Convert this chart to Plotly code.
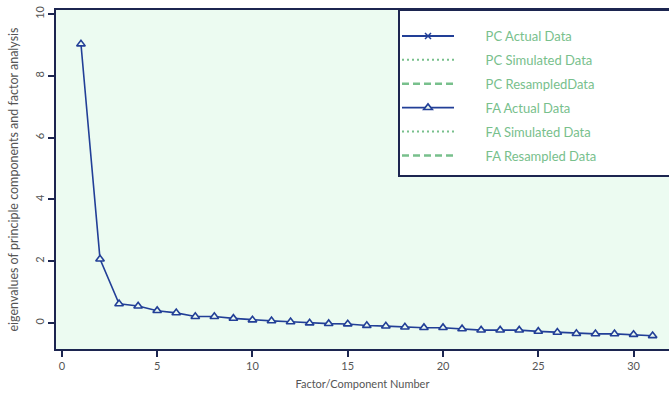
import plotly.graph_objects as go

factor_numbers = list(range(1, 32))
fa_actual = [9.03, 2.07, 0.62, 0.55, 0.40, 0.33, 0.21, 0.21, 0.15, 0.10,
             0.07, 0.04, 0.00, -0.02, -0.03, -0.08, -0.10, -0.13, -0.15, -0.15,
             -0.19, -0.23, -0.23, -0.23, -0.27, -0.30, -0.34, -0.35, -0.35, -0.37, -0.41]
pc_actual = []
pc_simulated = []
pc_resampled = []
fa_simulated = []
fa_resampled = []

x_ticks = [0, 5, 10, 15, 20, 25, 30]
y_ticks = [0, 2, 4, 6, 8, 10]

BLUE = "#223f97"
GREEN = "#78c08c"
NAVY = "#1c2550"
BG = "#ecfbf1"
PAD = "\u00a0" * 8
DOT = "2px,3px"
DASH = "7px,4px"

def xs(vals):
    return factor_numbers[:len(vals)] if vals else [None]

def ys(vals):
    return vals if vals else [None]

fig = go.Figure()
fig.add_trace(go.Scatter(x=xs(pc_actual), y=ys(pc_actual), name=PAD + "PC Actual Data",
                         mode="lines+markers", legendgroup="1",
                         line=dict(color=BLUE, width=2),
                         marker=dict(symbol="x-thin-open", size=6, color=BLUE, line=dict(color=BLUE, width=1.5))))
fig.add_trace(go.Scatter(x=xs(pc_simulated), y=ys(pc_simulated), name=PAD + "PC Simulated Data",
                         mode="lines", legendgroup="2",
                         line=dict(color=GREEN, width=2, dash=DOT)))
fig.add_trace(go.Scatter(x=xs(pc_resampled), y=ys(pc_resampled), name=PAD + "PC ResampledData",
                         mode="lines", legendgroup="3",
                         line=dict(color=GREEN, width=2.5, dash=DASH)))
fig.add_trace(go.Scatter(x=factor_numbers, y=fa_actual, name=PAD + "FA Actual Data",
                         mode="lines+markers", legendgroup="4",
                         line=dict(color=BLUE, width=1.6),
                         marker=dict(symbol="triangle-up", size=7.5, color=BG,
                                     line=dict(color=BLUE, width=1.6))))
fig.add_trace(go.Scatter(x=xs(fa_simulated), y=ys(fa_simulated), name=PAD + "FA Simulated Data",
                         mode="lines", legendgroup="5",
                         line=dict(color=GREEN, width=2, dash=DOT)))
fig.add_trace(go.Scatter(x=xs(fa_resampled), y=ys(fa_resampled), name=PAD + "FA Resampled Data",
                         mode="lines", legendgroup="6",
                         line=dict(color=GREEN, width=2.5, dash=DASH)))

axis_font = dict(family="Lato, sans-serif", size=11, color="#555555")
ytitle_font = dict(family="Lato, sans-serif", size=12.5, color="#555555")

plot_w = 669 - 56
plot_h = 393 - 10 - 44

fig.add_shape(type="rect", xref="paper", yref="paper",
              x0=(399 - 56) / plot_w, x1=1.05,
              y0=(349 - 176) / plot_h, y1=1.0,
              fillcolor="white", line=dict(color=NAVY, width=2), layer="above")

fig.update_layout(
    width=669, height=393,
    margin=dict(l=56, r=0, t=10, b=44),
    paper_bgcolor="white",
    plot_bgcolor=BG,
    font=dict(family="Lato, sans-serif", size=11, color="#555555"),
    showlegend=True,
    legend=dict(
        x=(397 - 56) / plot_w, y=1.0 - 11 / plot_h, xanchor="left", yanchor="top",
        bgcolor="rgba(0,0,0,0)", borderwidth=0,
        font=dict(family="Lato, sans-serif", size=13, color=GREEN),
        tracegroupgap=4, itemwidth=52,
    ),
    xaxis=dict(
        range=[-0.31, 31.86], tickvals=x_ticks, ticktext=[str(t) for t in x_ticks],
        showgrid=False, zeroline=False, showline=True, linecolor=NAVY, linewidth=1.5,
        mirror=True, ticks="outside", ticklen=6, tickwidth=1.5, tickcolor=NAVY,
        tickfont=axis_font, automargin=False,
        title=dict(text="Factor/Component Number", font=axis_font, standoff=9),
    ),
    yaxis=dict(
        range=[-0.84, 10.13], tickvals=y_ticks, ticktext=[str(t) for t in y_ticks],
        showgrid=False, zeroline=False, showline=True, linecolor=NAVY, linewidth=1.5,
        mirror=True, ticks="outside", ticklen=6, tickwidth=1.5, tickcolor=NAVY,
        tickangle=-90, tickfont=axis_font, automargin=False,
        title=dict(text="eigenvalues of principle components and factor analysis",
                   font=ytitle_font, standoff=11),
    ),
)

fig.write_html("out.html", post_script="document.body.style.margin='0';",
               config={"displayModeBar": False})
